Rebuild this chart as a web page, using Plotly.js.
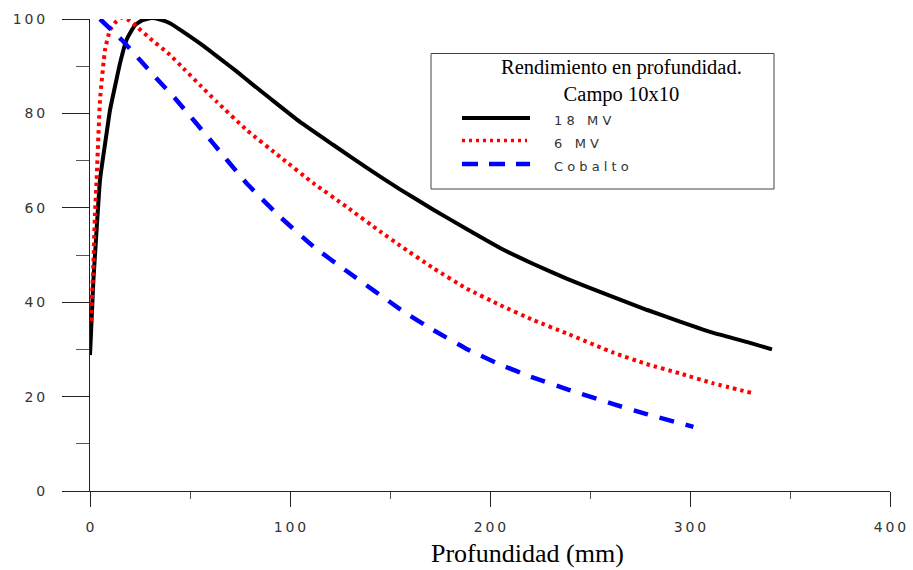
<!DOCTYPE html>
<html>
<head>
<meta charset="utf-8">
<script src="https://cdn.plot.ly/plotly-3.0.1.min.js"></script>
<style>html,body{margin:0;padding:0;background:#fff;}#chart{width:913px;height:570px;}</style>
</head>
<body>
<div id="chart"></div>
<script>
// Depth (mm) and relative dose (%)
var depth18 = [0, 1.7, 3.3, 5, 8.3, 10, 13.3, 15, 18.3, 22.5, 26, 30.8, 35, 40, 48.3, 56.7, 65, 73.3, 81.7, 90, 105, 121.7, 138.3, 155, 171.7, 188.3, 205, 221.7, 238.3, 255, 278.3, 295, 311.7, 328.3, 341];
var dose18  = [28.8, 44.7, 55.3, 65.9, 75.8, 80.7, 87.3, 90.6, 95.6, 98.7, 99.7, 100.2, 99.9, 99.1, 96.8, 94.3, 91.6, 88.9, 86.0, 83.2, 78.2, 73.3, 68.5, 63.9, 59.6, 55.5, 51.5, 48.1, 45.0, 42.2, 38.4, 35.9, 33.5, 31.6, 30.0];

var depth6 = [0.5, 1.7, 2.5, 3.3, 5, 7.5, 10, 12.5, 15.8, 19.2, 22.5, 30.8, 39.2, 47.5, 55, 63.3, 78.3, 95, 111.7, 128.3, 145, 155, 171.7, 188.3, 205, 221.7, 238.3, 261.7, 278.3, 295, 311.7, 331.7];
var dose6  = [36, 48.3, 58.9, 65.9, 82.8, 93.4, 97.7, 99.2, 100.3, 99.8, 98.7, 95.6, 92.7, 89.2, 86.0, 82.5, 76.5, 70.8, 65.2, 60.2, 55.0, 52.0, 47.2, 42.9, 39.4, 36.2, 33.4, 29.3, 26.9, 24.9, 22.8, 20.7];

var depthCo = [5, 15.8, 25, 33.3, 42.5, 61.7, 78.3, 95, 111.7, 128.3, 157.5, 171.7, 188.3, 205, 221.7, 238.3, 261.7, 278.3, 301.7];
var doseCo  = [100, 95.6, 91.3, 87.4, 83.2, 73.6, 65.2, 58.1, 51.8, 46.6, 37.8, 34.1, 30.1, 26.8, 24.0, 21.6, 18.4, 16.3, 13.6];

var seriesNames = ['1 8\u00a0\u00a0 M V', '6\u00a0\u00a0 M V', 'C o b a l t o'];
var legendTitle = 'Rendimiento en profundidad.<br>Campo 10x10';
var xTitle = 'Profundidad (mm)';

var xTickVals = [0, 100, 200, 300, 400];
var xTickText = ['0', '1\u20090\u20090', '2\u20090\u20090', '3\u20090\u20090', '4\u20090\u20090'];
var yTickVals = [0, 20, 40, 60, 80, 100];
var yTickText = ['0', '2\u20090', '4\u20090', '6\u20090', '8\u20090', '1\u20090\u20090'];

// layout geometry (pixels)
var W = 913, H = 570, L = 90, R = 23, T = 19, B = 79;
var pw = W - L - R, ph = H - T - B;
function px(x) { return (x - L) / pw; }
function py(y) { return (H - B - y) / ph; }

var traces = [
  {x: depth18, y: dose18, mode: 'lines', name: seriesNames[0], cliponaxis: false,
   line: {color: '#000000', width: 4, shape: 'spline', smoothing: 0.4}},
  {x: depth6, y: dose6, mode: 'lines', name: seriesNames[1], cliponaxis: false,
   line: {color: '#ff0000', width: 4, dash: '3.5px,4px', shape: 'spline', smoothing: 0.4}},
  {x: depthCo, y: doseCo, mode: 'lines', name: seriesNames[2], cliponaxis: false,
   line: {color: '#0000ff', width: 4.5, dash: '15px,12px', shape: 'spline', smoothing: 0.4}}
];

var tickFont = {family: 'DejaVu Sans', size: 14, color: '#333'};
var legFont = {family: 'DejaVu Sans', size: 13, color: '#333'};

var shapes = [
  {type: 'rect', xref: 'paper', yref: 'paper', x0: px(431), x1: px(774), y0: py(189), y1: py(53.5),
   line: {color: '#444', width: 1}, fillcolor: 'rgba(0,0,0,0)'},
  {type: 'line', xref: 'paper', yref: 'paper', x0: px(462), x1: px(530), y0: py(118), y1: py(118),
   line: {color: '#000', width: 4}},
  {type: 'line', xref: 'paper', yref: 'paper', x0: px(462), x1: px(527), y0: py(140.5), y1: py(140.5),
   line: {color: '#ff0000', width: 3.5, dash: '3px,4px'}},
  {type: 'line', xref: 'paper', yref: 'paper', x0: px(462), x1: px(530), y0: py(164), y1: py(164),
   line: {color: '#0000ff', width: 4.5, dash: '16px,11px'}}
];

var annotations = [
  {xref: 'paper', yref: 'paper', x: px(621), y: py(81), text: legendTitle, showarrow: false,
   xanchor: 'center', yanchor: 'middle', align: 'center',
   font: {family: 'Liberation Serif', size: 20.5, color: '#000'}},
  {xref: 'paper', yref: 'paper', x: px(552), y: py(120), text: seriesNames[0], showarrow: false,
   xanchor: 'left', yanchor: 'middle', font: legFont},
  {xref: 'paper', yref: 'paper', x: px(552), y: py(143), text: seriesNames[1], showarrow: false,
   xanchor: 'left', yanchor: 'middle', font: legFont},
  {xref: 'paper', yref: 'paper', x: px(552), y: py(166.5), text: seriesNames[2], showarrow: false,
   xanchor: 'left', yanchor: 'middle', font: legFont},
  {xref: 'paper', yref: 'paper', x: px(527), y: py(553), text: xTitle, showarrow: false,
   xanchor: 'center', yanchor: 'middle',
   font: {family: 'Liberation Serif', size: 26, color: '#000'}}
];

var layout = {
  width: W, height: H,
  margin: {l: L, r: R, t: T, b: B, pad: 0},
  paper_bgcolor: '#fff', plot_bgcolor: '#fff',
  showlegend: false,
  xaxis: {
    range: [0, 400], showgrid: false, zeroline: false,
    showline: true, linecolor: '#222', linewidth: 1,
    tickmode: 'array', tickvals: xTickVals, ticktext: xTickText,
    ticks: 'outside', ticklen: 15, tickwidth: 1, tickcolor: '#222',
    ticklabelstandoff: 8, tickfont: tickFont,
    minor: {dtick: 50, tick0: 0, ticks: 'outside', ticklen: 7, tickwidth: 1, tickcolor: '#555', showgrid: false}
  },
  yaxis: {
    range: [0, 100], showgrid: false, zeroline: false,
    showline: true, linecolor: '#222', linewidth: 1,
    tickmode: 'array', tickvals: yTickVals, ticktext: yTickText,
    ticks: 'outside', ticklen: 27, tickwidth: 1, tickcolor: '#222',
    ticklabelstandoff: 14, tickfont: tickFont,
    minor: {dtick: 10, tick0: 0, ticks: 'outside', ticklen: 13, tickwidth: 1, tickcolor: '#555', showgrid: false}
  },
  shapes: shapes,
  annotations: annotations
};

Plotly.newPlot('chart', traces, layout, {displayModeBar: false, staticPlot: true});
</script>
</body>
</html>
